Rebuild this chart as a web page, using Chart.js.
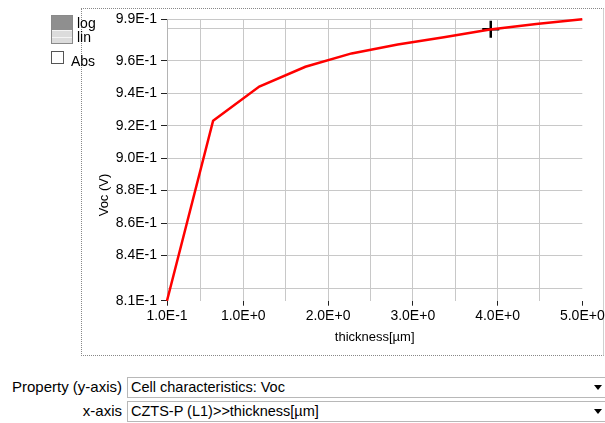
<!DOCTYPE html>
<html>
<head>
<meta charset="utf-8">
<script src="https://cdn.jsdelivr.net/npm/chart.js@4"></script>
<style>
body { margin: 0; width: 605px; height: 423px; overflow: hidden; background: #fff;
       font-family: "Liberation Sans", Arial, sans-serif; position: relative; color: #000; }
#frame { position: absolute; left: 81px; top: 8px; width: 521px; height: 346px;
         border-top: 1px dotted #888; border-left: 1px dotted #888; border-bottom: 1px dotted #888;
         border-right: 1px solid #d0d0d0; }
#chartBox { position: absolute; left: 0; top: 0; width: 640px; height: 360px; }
.scaleBox { position: absolute; left: 51px; top: 15px; width: 20px; height: 27px; border: 1px solid #8a8a8a; }
.scaleBox .top { height: 14px; background: #8f8f8f; }
.scaleBox .bot { height: 13px; background: #dcdcdc; border-top: 1px solid #f4f4f4; box-sizing: border-box; }
.scaleBox .bot div { margin-top: 6px; height: 1px; background: #f4f4f4; }
.lbl { position: absolute; font-size: 14px; line-height: 14px; white-space: nowrap; }
.chk { position: absolute; left: 51px; top: 51px; width: 11px; height: 11px; border: 1px solid #555; background: #fff; }
#ytitle { position: absolute; left: 103px; top: 195px; font-size: 13px; white-space: nowrap;
          transform: translate(-50%, -50%) rotate(-90deg); }
.combo { position: absolute; left: 127px; width: 490px; height: 19px; border: 1px solid #b8b8b8; background: #fff; }
.combo span { position: absolute; left: 3px; top: 1px; font-size: 14.5px; }
.arrow { position: absolute; left: 594px; width: 0; height: 0;
         border-left: 4px solid transparent; border-right: 4px solid transparent; border-top: 5px solid #000; }
.rowLbl { position: absolute; right: 483px; font-size: 15px; white-space: nowrap; }
</style>
</head>
<body>
<div id="frame"></div>
<div id="chartBox"><canvas id="vocChart" width="640" height="360"></canvas></div>

<div class="scaleBox"><div class="top"></div><div class="bot"><div></div></div></div>
<div class="lbl" style="left:77px; top:16px;">log</div>
<div class="lbl" style="left:77px; top:30px;">lin</div>
<div class="chk"></div>
<div class="lbl" style="left:71px; top:54px;">Abs</div>
<div id="ytitle">Voc (V)</div>

<div class="rowLbl" style="top:378px;">Property (y-axis)</div>
<div class="combo" style="top:377px;"><span>Cell characteristics: Voc</span></div>
<div class="arrow" style="top:385px;"></div>
<div class="rowLbl" style="top:402px;">x-axis</div>
<div class="combo" style="top:401px;"><span>CZTS-P (L1)&gt;&gt;thickness[µm]</span></div>
<div class="arrow" style="top:409px;"></div>

<script>
// absorber thickness sweep (µm) and open-circuit voltage (V)
const thickness = [0.1, 0.644, 1.189, 1.733, 2.278, 2.822, 3.367, 3.911, 4.456, 5.0];
const voc = [0.8122, 0.9231, 0.9441, 0.9563, 0.9645, 0.9700, 0.9744, 0.9792, 0.9826, 0.9855];

// axis ranges and ticks as shown in the plot
const xMin = 0.1, xMax = 5.0;
const xTicks = [0.1, 0.5, 1, 1.5, 2, 2.5, 3, 3.5, 4, 4.5, 5];
const xLabelled = [0.1, 1, 2, 3, 4, 5];
const yMin = 0.8122, yMax = 0.9857;
const yTicks = [yMin, 0.82, 0.84, 0.86, 0.88, 0.90, 0.92, 0.94, 0.96, 0.98, yMax];
const yLabelled = [yMin, 0.84, 0.86, 0.88, 0.90, 0.92, 0.94, 0.96, yMax];

// mouse cursor position captured in the screenshot
const cursorPos = [3.92, 0.9794];

const fmt = (v) => v.toExponential(1).toUpperCase();
const gridGray = '#c8c8c8';
const tickFont = { family: '"Liberation Sans", Arial, sans-serif', size: 14 };

const ctx = document.getElementById('vocChart');
new Chart(ctx, {
    type: 'line',
    data: {
        datasets: [{
            label: 'Voc',
            data: thickness.map((t, i) => ({ x: t, y: voc[i] })),
            borderColor: '#ff0000',
            borderWidth: 2.5,
            pointRadius: 0,
            tension: 0,
            clip: false
        }, {
            type: 'scatter',
            label: 'cursor',
            data: [{ x: cursorPos[0], y: cursorPos[1] }],
            pointStyle: 'cross',
            pointRadius: 8.5,
            borderColor: '#000',
            borderWidth: 2.5,
            backgroundColor: '#000'
        }]
    },
    options: {
        responsive: false,
        animation: false,
        devicePixelRatio: 1,
        layout: { padding: { left: 81, top: 19, right: 57.7, bottom: 14.8 } },
        plugins: { legend: { display: false }, tooltip: { enabled: false } },
        scales: {
            x: {
                type: 'linear',
                min: xMin,
                max: xMax,
                afterBuildTicks: (scale) => { scale.ticks = xTicks.map(v => ({ value: v })); },
                afterFit: (scale) => { scale.height = 44.5; },
                ticks: {
                    autoSkip: false,
                    maxRotation: 0,
                    padding: 2,
                    color: '#000',
                    font: tickFont,
                    callback: (v) => xLabelled.includes(v) ? fmt(v) : ''
                },
                grid: {
                    color: (c) => (c.tick && (c.tick.value === xMin || c.tick.value === xMax)) ? 'rgba(0,0,0,0)' : gridGray,
                    tickColor: (c) => (c.tick && xLabelled.includes(c.tick.value)) ? '#222' : 'rgba(0,0,0,0)',
                    tickLength: 5
                },
                border: { display: false },
                title: {
                    display: true,
                    text: 'thickness[µm]',
                    color: '#000',
                    padding: 0,
                    font: { family: '"Liberation Sans", Arial, sans-serif', size: 13 }
                }
            },
            y: {
                type: 'linear',
                min: yMin,
                max: yMax,
                afterBuildTicks: (scale) => { scale.ticks = yTicks.map(v => ({ value: v })); },
                afterFit: (scale) => { scale.width = 86; },
                ticks: {
                    autoSkip: false,
                    padding: 4,
                    color: '#000',
                    font: tickFont,
                    callback: (v) => yLabelled.includes(v) ? fmt(v) : ''
                },
                grid: {
                    color: (c) => (c.tick && c.tick.value === yMin) ? 'rgba(0,0,0,0)' : gridGray,
                    tickColor: (c) => (c.tick && yLabelled.includes(c.tick.value)) ? '#222' : 'rgba(0,0,0,0)',
                    tickLength: 6
                },
                border: { display: true, color: '#b4b4b4' }
            }
        }
    }
});
</script>
</body>
</html>
